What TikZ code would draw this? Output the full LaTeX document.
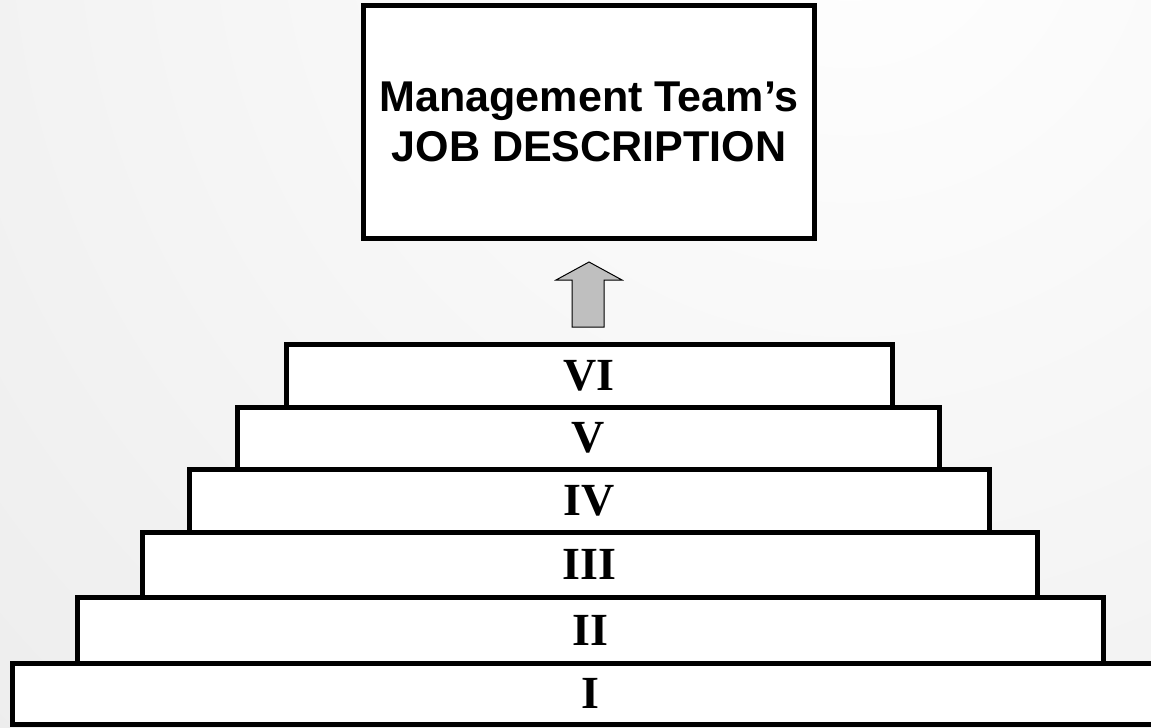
\documentclass[tikz,border=0pt]{standalone}
\usepackage{fontspec}
\setmainfont{Liberation Serif}
\newfontfamily\arialfont{Liberation Sans}
\def\px{0.75pt}
\tikzset{
	backdrop/.style={inner color=white,outer color=black!14},%
	stair/.style={draw,line width=5*\px,fill=white,inner sep=0pt,font=\bfseries\fontsize{34.5}{40}\selectfont},%
	jobbox/.style={draw,line width=5*\px,fill=white,inner sep=0pt,align=center,font=\arialfont\bfseries\fontsize{32.3}{38}\selectfont},%
	uparrow/.style={draw,line width=1*\px,fill=black!25,line join=miter},%
}

\begin{document}
\begin{tikzpicture}[%
		x=\px,y=-\px,%
		]
		\useasboundingbox (0,0) rectangle (1151,727);
		\clip (0,0) rectangle (1151,727);
		\shade[backdrop] (850,-100) circle (2400);
		% the stairs, from the bottom up
		\node[stair,minimum width=1156*\px,minimum height=61*\px] (stepI) at (590,693.5) {I};
		\node[stair,minimum width=1026*\px,minimum height=66*\px] (stepII) at (590,630) {II};
		\node[stair,minimum width=895*\px,minimum height=65*\px] (stepIII) at (589.5,564.5) {III};
		\node[stair,minimum width=800*\px,minimum height=63*\px] (stepIV) at (589,500.5) {IV};
		\node[stair,minimum width=702*\px,minimum height=62*\px] (stepV) at (588,438) {V};
		\node[stair,minimum width=606*\px,minimum height=63*\px] (stepVI) at (589,375.5) {VI};
		% arrow up to the goal
		\draw[uparrow] (572,327) -- (572,280) -- (556,280) -- (589,262) -- (622,280) -- (604,280) -- (604,327) -- cycle;
		\node[jobbox,minimum width=451*\px,minimum height=232*\px] (jobdesc) at (589,122) {Management Team’s\\JOB DESCRIPTION};
	\end{tikzpicture}
\end{document}
